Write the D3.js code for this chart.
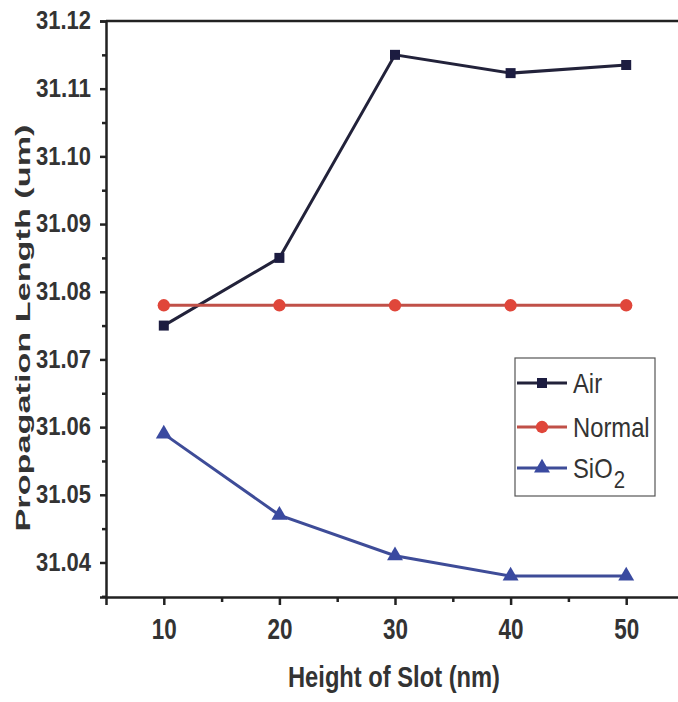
<!DOCTYPE html>
<html>
<head>
<meta charset="utf-8">
<script src="https://cdn.jsdelivr.net/npm/d3@7"></script>
<style>
  body { margin: 0; background: #fff; }
  text { font-family: "Liberation Sans", Arial, sans-serif; fill: #333; }
</style>
</head>
<body>
<div id="chart"></div>
<script>
// data
const slotHeights = [10, 20, 30, 40, 50];
const airValues = [31.075, 31.085, 31.115, 31.1123, 31.1135];
const normalValues = [31.078, 31.078, 31.078, 31.078, 31.078];
const sio2Values = [31.059, 31.047, 31.041, 31.038, 31.038];
const yTicks = [31.04, 31.05, 31.06, 31.07, 31.08, 31.09, 31.10, 31.11, 31.12];
const xTicks = [10, 20, 30, 40, 50];

const W = 678, H = 702;
const plotLeft = 106, plotRight = 684, plotTop = 21, plotBottom = 597;

let svg = d3.select("#chart")
    .append("svg")
    .attr("width", W)
    .attr("height", H);

let x = d3.scaleLinear().domain([5, 55]).range([plotLeft, plotRight]);
let y = d3.scaleLinear().domain([31.0349, 31.12]).range([plotBottom, plotTop]);

// frame (top and right)
svg.append("line")
    .attr("x1", plotLeft).attr("x2", plotRight)
    .attr("y1", plotTop).attr("y2", plotTop)
    .attr("stroke", "#222").attr("stroke-width", 2.5);
svg.append("line")
    .attr("x1", plotRight).attr("x2", plotRight)
    .attr("y1", plotTop).attr("y2", plotBottom)
    .attr("stroke", "#222").attr("stroke-width", 2.5);

// y axis
let yAxis = svg.append("g")
    .attr("transform", `translate(${plotLeft},0)`)
    .call(d3.axisLeft(y).tickValues(yTicks).tickFormat(d3.format(".2f")).tickSize(6).tickPadding(9));
svg.append("g")
    .attr("transform", `translate(${plotLeft},0)`)
    .call(d3.axisLeft(y).tickValues(d3.range(31.035, 31.12, 0.01)).tickFormat("").tickSize(4))
    .select(".domain").remove();

// x axis
let xAxis = svg.append("g")
    .attr("transform", `translate(0,${plotBottom})`)
    .call(d3.axisBottom(x).tickValues(xTicks).tickSize(8).tickPadding(13));
svg.append("g")
    .attr("transform", `translate(0,${plotBottom})`)
    .call(d3.axisBottom(x).tickValues([15, 25, 35, 45]).tickFormat("").tickSize(5))
    .select(".domain").remove();

svg.selectAll(".domain").attr("stroke", "#222").attr("stroke-width", 2.5);
svg.selectAll(".tick line").attr("stroke", "#222").attr("stroke-width", 2.5);

// squeezed tall labels like the scanned figure
yAxis.selectAll(".tick text")
    .style("font-size", "26px")
    .style("font-weight", "bold")
    .attr("textLength", 55)
    .attr("lengthAdjust", "spacingAndGlyphs")
    .attr("dy", "0.3em")
    .attr("fill", "#333");
xAxis.selectAll(".tick text")
    .style("font-size", "29px")
    .style("font-weight", "bold")
    .attr("textLength", 25)
    .attr("lengthAdjust", "spacingAndGlyphs")
    .attr("fill", "#333");

// axis titles
svg.append("text")
    .text("Height of Slot (nm)")
    .attr("x", 394).attr("y", 687)
    .attr("text-anchor", "middle")
    .attr("textLength", 212)
    .attr("lengthAdjust", "spacingAndGlyphs")
    .style("font-size", "30px")
    .style("font-weight", "bold");

svg.append("text")
    .text("Propagation Length (um)")
    .attr("transform", "translate(30,328) rotate(-90)")
    .attr("text-anchor", "middle")
    .attr("textLength", 407)
    .attr("lengthAdjust", "spacingAndGlyphs")
    .style("font-size", "20px")
    .style("font-weight", "bold");

// series
const series = [
    { name: "Air", values: airValues, line: "#22223a", fill: "#1c1c40", shape: d3.symbolSquare, size: 100 },
    { name: "Normal", values: normalValues, line: "#c05048", fill: "#e0463a", shape: d3.symbolCircle, size: 120 },
    { name: "SiO", sub: "2", values: sio2Values, line: "#3e4c98", fill: "#3a4aa0", shape: d3.symbolTriangle, size: 110 }
];

let line = d3.line()
    .x((d, i) => x(slotHeights[i]))
    .y(d => y(d));

series.forEach(s => {
    svg.append("path")
        .datum(s.values)
        .attr("d", line)
        .attr("fill", "none")
        .attr("stroke", s.line)
        .attr("stroke-width", 3);

    svg.selectAll(null)
        .data(s.values)
        .enter()
        .append("path")
        .attr("d", d3.symbol().type(s.shape).size(s.size))
        .attr("transform", (d, i) => `translate(${x(slotHeights[i])},${y(d)})`)
        .attr("fill", s.fill);
});

// legend
let legend = svg.append("g").attr("transform", "translate(515,358)");
legend.append("rect")
    .attr("width", 140).attr("height", 138)
    .attr("fill", "#fff")
    .attr("stroke", "#555").attr("stroke-width", 1.2);

const legendY = [25, 69, 110];
const squeeze = 0.85;
series.forEach((s, i) => {
    let ly = legendY[i];
    legend.append("line")
        .attr("x1", 2).attr("x2", 52)
        .attr("y1", ly).attr("y2", ly)
        .attr("stroke", s.line).attr("stroke-width", 3);
    legend.append("path")
        .attr("d", d3.symbol().type(s.shape).size(s.size))
        .attr("transform", `translate(27,${ly})`)
        .attr("fill", s.fill);
    let label = legend.append("text")
        .attr("transform", `translate(58,${ly + 10}) scale(${squeeze},1)`)
        .style("font-size", "28px")
        .text(s.name);
    if (s.sub) {
        let w = label.node().getComputedTextLength() * squeeze;
        legend.append("text")
            .attr("transform", `translate(${58 + w + 1},${ly + 20}) scale(${squeeze},1)`)
            .style("font-size", "24px")
            .text(s.sub);
    }
});
</script>
</body>
</html>
